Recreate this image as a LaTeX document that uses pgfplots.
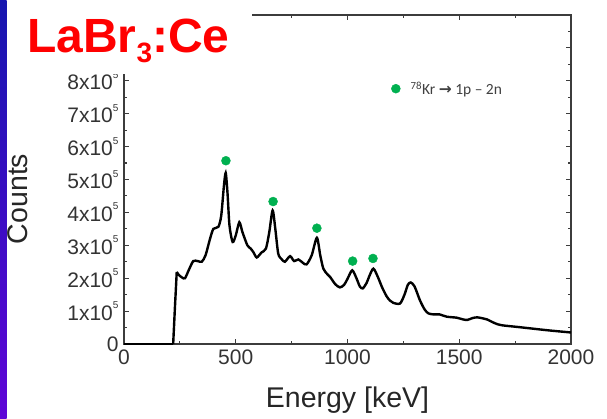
\documentclass[border=0pt]{standalone}
\usepackage{pgfplots}
\pgfplotsset{compat=1.18}
\usepackage{fontspec}
\setmainfont{Liberation Sans}
\newfontfamily\calfont{Carlito}
\newfontfamily\djv{DejaVu Sans}
\definecolor{dotgreen}{RGB}{0,176,80}
\definecolor{axgray}{RGB}{60,60,60}
\definecolor{stripTop}{RGB}{22,22,175}
\definecolor{stripBot}{RGB}{95,5,215}
\newcommand{\sci}[1]{#1x10\raisebox{0.55em}{\fontsize{10}{10}\selectfont 5}}
\begin{document}
\begin{tikzpicture}[x=1pt,y=1pt]
\path[use as bounding box] (0,0) rectangle (607,419);
\begin{axis}[
  at={(124pt,75pt)}, anchor=south west,
  width=447pt, height=329pt, scale only axis,
  xmin=0, xmax=2000, ymin=0, ymax=10,
  axis line style={axgray, line width=1.3pt},
  every tick/.style={axgray, line width=1.1pt},
  tick align=inside,
  major tick length=5pt, minor tick length=3pt,
  xtick={0,500,1000,1500,2000},
  xticklabels={0,500,1000,1500,2000},
  minor xtick={250,750,1250,1750},
  ytick={0,1,2,3,4,5,6,7,8,9,10},
  yticklabels={0,\sci{1},\sci{2},\sci{3},\sci{4},\sci{5},\sci{6},\sci{7},\sci{8},,},
  minor ytick={0.5,1.5,2.5,3.5,4.5,5.5,6.5,7.5,8.5,9.5},
  tick label style={font=\fontsize{21}{21}\selectfont, text=black!80},
  xticklabel style={yshift=-2pt},
  yticklabel style={xshift=-2pt},
  xlabel={Energy [keV]},
  ylabel={Counts},
  xlabel style={font=\fontsize{28.5}{28.5}\selectfont, text=black!85, at={(axis description cs:0.5,-0.170)}, anchor=center, inner sep=0pt},
  ylabel style={font=\fontsize{28.5}{28.5}\selectfont, text=black!85, at={(axis description cs:-0.238,0.441)}, anchor=center, inner sep=0pt, rotate=0},
  legend style={draw=none, fill=none, at={(axis cs:1181,7.76)}, anchor=west, font=\calfont\fontsize{15.5}{15.5}\selectfont\color{black!75}},
  legend image code/.code={\fill[dotgreen] (0.25cm,0) circle (4.5pt);},
  clip=false,
]
\addplot[black, line width=2.4pt, smooth, tension=0.45, forget plot] coordinates {
(0,0)(110,0)(220,0)
};
\addplot[black, line width=2.4pt, forget plot] coordinates {
(220,0)(228,1.13)(236,2.19)
};
\addplot[black, line width=2.4pt, smooth, tension=0.45, forget plot] coordinates {
(236,2.19)(245,2.1)(260,2.02)(273,2.0)(290,2.25)(310,2.52)(330,2.52)(348,2.5)(365,2.7)(385,3.2)(400,3.5)(422,3.56)(435,3.9)(447,4.8)(455,5.2)(463,4.6)(472,3.6)(486,3.1)(500,3.3)(516,3.7)(530,3.4)(552,3.0)(567,2.9)(580,2.78)(594,2.63)(615,2.78)(635,2.9)(650,3.4)(665,4.06)(677,3.5)(690,2.75)(705,2.58)(720,2.5)(743,2.67)(761,2.52)(780,2.57)(800,2.47)(817,2.42)(840,2.7)(863,3.23)(878,2.7)(892,2.29)(910,2.12)(922,2.04)(945,1.82)(966,1.72)(985,1.8)(1000,1.98)(1021,2.24)(1040,2.0)(1055,1.75)(1068,1.69)(1085,1.85)(1100,2.1)(1116,2.29)(1135,2.05)(1155,1.72)(1175,1.45)(1190,1.32)(1205,1.25)(1235,1.23)(1255,1.5)(1270,1.8)(1283,1.87)(1300,1.75)(1324,1.33)(1345,1.05)(1362,0.93)(1385,0.9)(1411,0.9)(1444,0.83)(1488,0.8)(1515,0.75)(1536,0.73)(1560,0.79)(1581,0.81)(1605,0.78)(1623,0.75)(1660,0.63)(1690,0.57)(1772,0.51)(1891,0.42)(2000,0.35)
};
\addplot[only marks, mark=*, mark size=4.5pt, color=dotgreen] coordinates {
(456,5.57)(667,4.33)(863,3.52)(1023,2.52)(1114,2.60)
};
\addlegendentry{\hspace{8pt}\textsuperscript{78}Kr {\djv\bfseries →} 1p – 2n}
\end{axis}
\shade[top color=stripTop, bottom color=stripBot] (0,0) rectangle (6.5,419);
\fill[white] (6.5,345) rectangle (252,419);
\node[anchor=base west, inner sep=0pt, text=red, font=\fontsize{48}{48}\selectfont\bfseries] at (27,366) {LaBr\raisebox{-10pt}{\fontsize{28}{28}\selectfont 3}:Ce};
\end{tikzpicture}
\end{document}
